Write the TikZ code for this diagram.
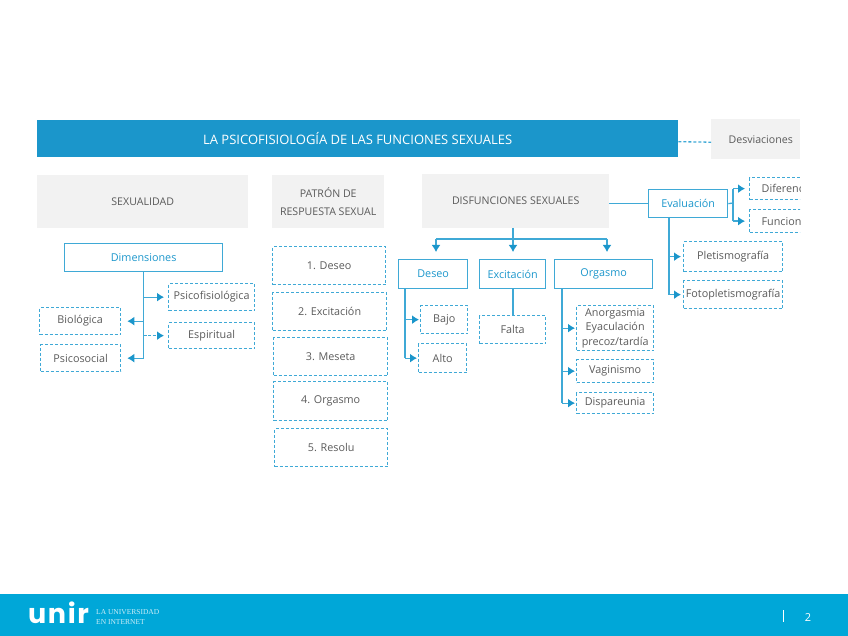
\documentclass[tikz,border=0pt]{standalone}
\usepackage{fontspec}
\setmainfont{Open Sans}
\newfontfamily\logofont[LetterSpace=6]{Poppins}
\newfontfamily\logosub{Liberation Serif}
\usetikzlibrary{arrows.meta}
\definecolor{unirblue}{HTML}{1B96CB}
\definecolor{unirline}{HTML}{3FA9D6}
\definecolor{unirfoot}{HTML}{00A7D8}
\definecolor{paneg}{HTML}{F2F2F2}
\definecolor{textg}{HTML}{5A5A5A}
\tikzset{
	base/.style={anchor=north west, inner sep=0pt, text=textg, align=center, font=\fontsize{10.8}{14.3}\selectfont},
	pane/.style={base, fill=paneg, font=\fontsize{10.6}{14.3}\selectfont},
	headbox/.style={base, draw=unirline, line width=1.3pt, text=unirblue},
	dashbox/.style={base, draw=unirline, line width=1.3pt, dash pattern=on 3pt off 2pt},
	line/.style={draw=unirline, line width=1.3pt},
	arrow/.style={line, -{Latex[length=7pt,width=9pt,color=unirblue]}},
}
\begin{document}
\begin{tikzpicture}[x=1pt, y=-1pt]
		\useasboundingbox (0,0) rectangle (848,636);
		% title row
		\node[base, fill=unirblue, text=white, font=\fontsize{13}{15}\selectfont, minimum width=641pt, minimum height=37pt] (title) at (37,120) {LA PSICOFISIOLOGÍA DE LAS FUNCIONES SEXUALES};
		\node[pane, minimum width=89pt, minimum height=40pt] (desv) at (711,119) {\hspace*{10pt}Desviaciones};
		\draw[line, dash pattern=on 3pt off 2pt] ([yshift=-3pt]title.east) -- ([yshift=-3pt]desv.west);
		% column heads
		\node[pane, minimum width=211pt, minimum height=53pt] (sexual) at (37,175) {SEXUALIDAD};
		\node[pane, minimum width=112pt, minimum height=53pt, font=\fontsize{10.6}{18}\selectfont] (patron) at (272,175) {PATRÓN DE\\RESPUESTA SEXUAL};
		\node[pane, minimum width=187pt, minimum height=54pt] (disf) at (422,174) {DISFUNCIONES SEXUALES};
		% sexualidad
		\node[headbox, minimum width=158pt, minimum height=28pt] (dim) at (64,243) {Dimensiones};
		\node[dashbox, minimum width=86pt, minimum height=27pt] (psico) at (168,283) {Psicofisiológica};
		\node[dashbox, minimum width=86pt, minimum height=26pt] (espi) at (168,322) {Espiritual};
		\node[dashbox, minimum width=81pt, minimum height=27pt] (bio) at (39,307) {Biológica};
		\node[dashbox, minimum width=80pt, minimum height=27pt] (psoc) at (40,344) {Psicosocial};
		\draw[line] (dim.south) -- (dim.south |- psoc.east);
		\draw[arrow, shorten >=4pt] (dim.south |- psico.west) -- (psico.west);
		\draw[arrow, shorten >=4pt, dash pattern=on 3pt off 1.5pt] (dim.south |- espi.west) -- (espi.west);
		\draw[arrow, shorten >=6pt] (dim.south |- bio.east) -- (bio.east);
		\draw[arrow, shorten >=6pt] (dim.south |- psoc.east) -- (psoc.east);
		% patron
		\node[dashbox, minimum width=113pt, minimum height=38pt] (fase1) at (272,246) {1. Deseo};
		\node[dashbox, minimum width=114pt, minimum height=38pt] (fase2) at (272,292) {2. Excitación};
		\node[dashbox, minimum width=114pt, minimum height=38pt] (fase3) at (273,337) {3. Meseta};
		\node[dashbox, minimum width=114pt, minimum height=39pt] (fase4) at (273,381) {4. Orgasmo};
		\node[dashbox, minimum width=113pt, minimum height=38pt] (fase5) at (274,428) {5. Resolu};
		% disfunciones
		\node[headbox, minimum width=69pt, minimum height=29pt] (deseo) at (398,259) {Deseo};
		\node[headbox, minimum width=66pt, minimum height=29pt] (excit) at (479,259) {Excitación};
		\node[headbox, minimum width=98pt, minimum height=29pt] (orgas) at (554,259) {Orgasmo};
		\coordinate (disfT) at (513,228);
		\coordinate (disfJ) at (513,239);
		\coordinate (ejeD) at (436,239);
		\coordinate (ejeO) at (607,239);
		\draw[line] (disfT) -- (disfJ);
		\draw[line] (ejeD) -- (ejeO);
		\draw[arrow, shorten >=7pt] (ejeD) -- (ejeD |- deseo.north);
		\draw[arrow, shorten >=7pt] (disfJ) -- (disfJ |- excit.north);
		\draw[arrow, shorten >=7pt] (ejeO) -- (ejeO |- orgas.north);
		\node[dashbox, minimum width=47pt, minimum height=28pt] (bajo) at (420,305) {Bajo};
		\node[dashbox, minimum width=48pt, minimum height=29pt] (alto) at (418,343) {Alto};
		\node[dashbox, minimum width=66pt, minimum height=28pt] (falta) at (479,315) {Falta};
		\node[dashbox, minimum width=77pt, minimum height=45pt] (anor) at (576,305) {Anorgasmia\\Eyaculación\\precoz/tardía};
		\node[dashbox, minimum width=77pt, minimum height=23pt] (vagi) at (576,359) {Vaginismo};
		\node[dashbox, minimum width=77pt, minimum height=21pt] (disp) at (576,392) {Dispareunia};
		\coordinate (deseoT) at (405,288);
		\coordinate (orgasT) at (562,288);
		\draw[line] (deseoT) -- (deseoT |- alto.west);
		\draw[arrow, shorten >=1pt] (deseoT |- bajo.west) -- (bajo.west);
		\draw[arrow, shorten >=1pt] (deseoT |- alto.west) -- (alto.west);
		\draw[line] (excit.south -| disfJ) -- (falta.north -| disfJ);
		\draw[line] (orgasT) -- (orgasT |- disp.west);
		\draw[arrow, shorten >=1pt] (orgasT |- anor.west) -- (anor.west);
		\draw[arrow, shorten >=1pt] (orgasT |- vagi.west) -- (vagi.west);
		\draw[arrow, shorten >=1pt] (orgasT |- disp.west) -- (disp.west);
		% evaluacion
		\node[headbox, minimum width=79pt, minimum height=28pt] (eval) at (648,189) {Evaluación};
		\draw[line] (disf.east |- eval.west) -- (eval.west);
		\node[dashbox, minimum width=99pt, minimum height=30pt] (pleti) at (683,241) {Pletismografía};
		\node[dashbox, minimum width=99pt, minimum height=28pt] (foto) at (683,280) {Fotopletismografía};
		\coordinate (evalT) at (669,217);
		\draw[line] (evalT) -- (evalT |- foto.west);
		\draw[arrow, shorten >=2pt] (evalT |- pleti.west) -- (pleti.west);
		\draw[arrow, shorten >=2pt] (evalT |- foto.west) -- (foto.west);
		\begin{scope}
			\clip (0,0) rectangle (800,636);
			\tikzset{cutbox/.style={dashbox, text width=70pt, inner xsep=12pt, align=left}}
			\node[cutbox, minimum height=22pt] (difer) at (749,177) {Diferenc};
			\node[cutbox, minimum height=23pt] (funci) at (749,209) {Funcion};
		\end{scope}
		\coordinate (evalJ) at (733,203);
		\draw[line] (eval.east) -- (evalJ);
		\draw[line] (evalJ |- difer.west) -- (evalJ |- funci.west);
		\draw[arrow, shorten >=4pt] (evalJ |- difer.west) -- (difer.west);
		\draw[arrow, shorten >=4pt] (evalJ |- funci.west) -- (funci.west);
		% footer
		\node[base, fill=unirfoot, minimum width=848pt, minimum height=42pt] (foot) at (0,594) {};
		\node[anchor=west, inner sep=0pt, text=white, font=\logofont\bfseries\fontsize{27}{27}\selectfont] (logo) at (28,613) {unir};
		\node[anchor=west, inner sep=0pt, text=white!80!unirfoot, align=left, font=\logosub\fontsize{7.5}{9.6}\selectfont] (lema) at (96,617) {LA UNIVERSIDAD\\EN INTERNET};
		\coordinate (markT) at (783,610);
		\coordinate (markB) at (783,622);
		\draw[white, line width=0.8pt] (markT) -- (markB);
		\node[inner sep=0pt, text=white, font=\fontsize{11}{13}\selectfont] (pag) at (808,618) {2};
		\end{tikzpicture}
\end{document}
